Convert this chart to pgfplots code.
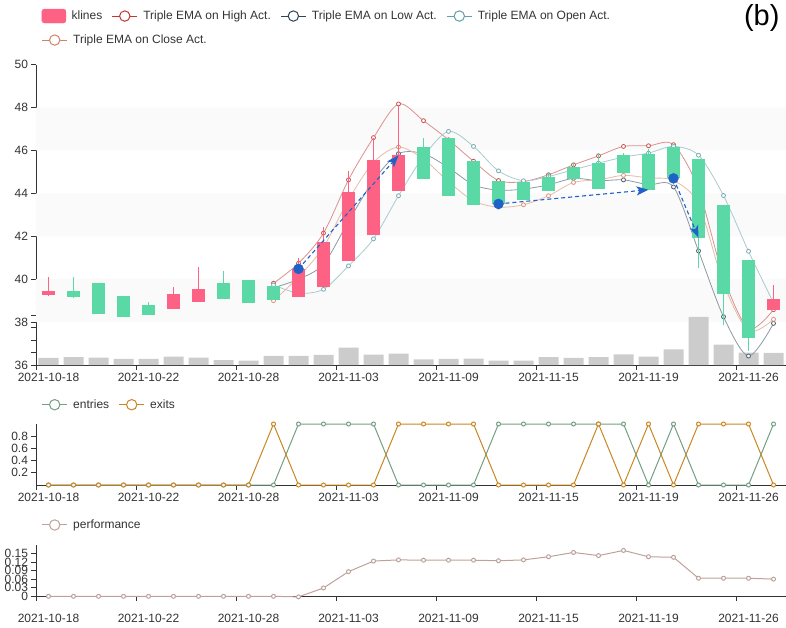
\documentclass[border=0pt]{standalone}
\usepackage{pgfplots}
\pgfplotsset{compat=1.18}
\usepackage{pgfplotstable}
\usepackage{fontspec}
\setmainfont{Liberation Sans}
\usetikzlibrary{arrows.meta}
\definecolor{kup}{RGB}{253,98,132}
\definecolor{kdown}{RGB}{90,216,166}
\definecolor{emaH}{HTML}{C23531}
\definecolor{emaL}{HTML}{2F4554}
\definecolor{emaO}{HTML}{61A0A8}
\definecolor{emaC}{HTML}{D48265}
\definecolor{ent}{HTML}{749F83}
\definecolor{ext}{HTML}{CA8622}
\definecolor{perf}{HTML}{BDA29A}
\definecolor{band}{RGB}{250,250,250}
\definecolor{vol}{RGB}{204,204,204}
\definecolor{trade}{HTML}{1F62C8}
\definecolor{txt}{HTML}{333333}

\pgfplotstableread{
x o c h l
0 39.27 39.45 40.08 39.24
5 38.60 39.33 39.63 38.60
6 38.94 39.56 40.57 38.94
10 39.16 40.48 40.98 39.16
11 39.63 41.74 42.42 39.63
12 40.87 44.07 45.05 40.87
13 42.05 45.57 46.58 42.05
14 44.12 45.77 48.10 44.12
29 38.58 39.08 39.73 38.58
}\kuptab

\pgfplotstableread{
x o c h l
1 39.45 39.16 40.12 39.14
2 39.83 38.38 39.83 38.38
3 39.22 38.24 39.22 38.24
4 38.79 38.33 38.96 38.33
7 39.83 39.08 40.40 39.08
8 39.97 38.89 39.97 38.89
9 39.66 39.05 39.66 39.05
15 46.16 44.68 46.58 44.68
16 46.56 43.90 46.56 43.90
17 45.52 43.44 45.52 43.44
18 44.59 43.51 44.59 43.51
19 44.54 43.67 44.54 43.67
20 44.77 44.09 45.01 44.09
21 45.24 44.66 45.44 44.66
22 45.41 44.21 45.88 44.21
23 45.77 44.94 45.90 44.94
24 45.83 44.17 46.08 44.17
25 46.17 44.70 46.17 44.70
26 45.61 41.94 45.61 40.54
27 43.48 39.33 43.48 37.85
28 40.88 37.26 40.88 36.65
}\kdowntab

\pgfplotstableread{
x v
0 36.327
1 36.373
2 36.341
3 36.280
4 36.280
5 36.387
6 36.341
7 36.233
8 36.200
9 36.420
10 36.420
11 36.467
12 36.807
13 36.481
14 36.527
15 36.266
16 36.280
17 36.294
18 36.200
19 36.200
20 36.373
21 36.327
22 36.373
23 36.499
24 36.387
25 36.733
26 38.240
27 36.947
28 36.574
29 36.560
}\voltab

\pgfplotstableread{
x h l o c
9 39.81 39.60 39.73 39.00
10 40.74 40.00 39.35 40.10
11 42.15 40.70 39.53 41.50
12 44.63 42.70 40.62 43.70
13 46.60 44.60 41.88 45.45
14 48.17 45.85 43.89 46.16
15 47.39 45.85 45.72 45.60
16 46.50 45.20 46.89 44.55
17 45.50 44.40 46.19 43.65
18 44.60 44.15 45.05 43.36
19 44.55 44.20 44.59 43.47
20 44.87 44.40 44.79 43.89
21 45.33 44.70 45.10 44.51
22 45.75 44.59 45.41 44.63
23 46.19 44.63 45.69 44.84
24 46.22 44.40 45.88 44.72
25 46.27 44.30 46.19 44.60
26 44.20 41.32 45.78 43.50
27 40.10 38.25 43.90 39.80
28 37.70 36.42 41.30 37.60
29 38.58 37.94 38.90 38.13
}\ematab

\pgfplotstableread{
x en ex perf
0 0 0 0
1 0 0 0
2 0 0 0
3 0 0 0
4 0 0 0
5 0 0 0
6 0 0 0
7 0 0 0
8 0 0 0
9 0 1 0
10 1 0 -0.002
11 1 0 0.029
12 1 0 0.086
13 1 0 0.123
14 0 1 0.127
15 0 1 0.126
16 0 1 0.126
17 0 1 0.126
18 1 0 0.124
19 1 0 0.127
20 1 0 0.138
21 1 0 0.153
22 1 1 0.142
23 1 0 0.160
24 0 1 0.138
25 1 0 0.136
26 0 1 0.063
27 0 1 0.063
28 0 1 0.063
29 1 0 0.060
}\sigtab

\pgfplotsset{
  common/.style={
    scale only axis, width=750pt,
    xmin=-0.5, xmax=29.5,
    axis x line*=bottom, axis y line*=left,
    axis line style={draw=txt, line width=0.8pt},
    xtick={-0.5,3.5,7.5,11.5,15.5,19.5,23.5,27.5},
    xticklabels={2021-10-18,2021-10-22,2021-10-28,2021-11-03,2021-11-09,2021-11-15,2021-11-19,2021-11-26},
    xticklabel style={xshift=12.5pt},
    tick align=outside, major tick length=4.5pt,
    tick style={draw=txt, line width=0.8pt},
    ticklabel style={font=\fontsize{12pt}{14pt}\selectfont, text=txt},
    /pgf/number format/assume math mode=true,
    legend style={draw=none, fill=none, inner sep=0pt, outer sep=0pt, anchor=west,
      font=\fontsize{12pt}{14pt}\selectfont, text=txt,
      nodes={inner sep=0pt},
      /tikz/every odd column/.append style={column sep=5.5pt},
      /tikz/every even column/.append style={column sep=9.5pt}},
    legend columns=-1,
  },
  lineleg/.style={legend image code/.code={
    \draw[#1, line width=1pt] (0pt,0pt) -- (25pt,0pt);
    \draw[#1, line width=1pt, fill=white] (12.5pt,0pt) circle (5.2pt);}},
}

\begin{document}
\begin{tikzpicture}
\useasboundingbox (0,0) rectangle (786pt,627pt);

% main candlestick axis
\begin{axis}[common,
  at={(36pt,262pt)}, anchor=south west, height=300.3pt,
  ymin=36, ymax=50, clip marker paths=true,
  ytick={36,38,...,50},
  extra y ticks={36.583,37.167,37.75,38.333},
  extra y tick labels={},
  legend style={at={(axis description cs:0.0076,1.162)}},
]
\addlegendimage{legend image code/.code={\fill[kup, rounded corners=2.5pt] (0pt,-7pt) rectangle (24pt,7pt);}}
\addlegendentry{klines}
\addlegendimage{lineleg=emaH}
\addlegendentry{Triple EMA on High Act.}
\addlegendimage{lineleg=emaL}
\addlegendentry{Triple EMA on Low Act.}
\addlegendimage{lineleg=emaO}
\addlegendentry{Triple EMA on Open Act.}

% background bands
\addplot[forget plot, draw=none, fill=band] coordinates {(-0.5,38) (29.5,38) (29.5,40) (-0.5,40) (-0.5,38)};
\addplot[forget plot, draw=none, fill=band] coordinates {(-0.5,42) (29.5,42) (29.5,44) (-0.5,44) (-0.5,42)};
\addplot[forget plot, draw=none, fill=band] coordinates {(-0.5,46) (29.5,46) (29.5,48) (-0.5,48) (-0.5,46)};

% volume
\addplot[forget plot, ybar, bar width=20pt, bar shift=0pt, fill=vol, draw=none] table[x=x, y=v] {\voltab};

% EMA lines
\addplot[forget plot, smooth, color=emaH!55, line width=0.8pt, mark=*, mark size=2pt, mark options={fill=white, draw=emaH!85, line width=0.8pt}] table[x=x, y=h] {\ematab};
\addplot[forget plot, smooth, color=emaL!55, line width=0.8pt, mark=*, mark size=2pt, mark options={fill=white, draw=emaL!85, line width=0.8pt}] table[x=x, y=l] {\ematab};
\addplot[forget plot, smooth, color=emaO!55, line width=0.8pt, mark=*, mark size=2pt, mark options={fill=white, draw=emaO!85, line width=0.8pt}] table[x=x, y=o] {\ematab};
\addplot[forget plot, smooth, color=emaC!55, line width=0.8pt, mark=*, mark size=2pt, mark options={fill=white, draw=emaC!85, line width=0.8pt}] table[x=x, y=c] {\ematab};

% wicks
\addplot[forget plot, draw=none, mark=none, error bars/.cd, y dir=both, y explicit, error mark=none,
  error bar style={draw=kup, line width=1.2pt}]
  table[x=x, y expr=(\thisrow{h}+\thisrow{l})/2, y error expr=(\thisrow{h}-\thisrow{l})/2] {\kuptab};
\addplot[forget plot, draw=none, mark=none, error bars/.cd, y dir=both, y explicit, error mark=none,
  error bar style={draw=kdown, line width=1.2pt}]
  table[x=x, y expr=(\thisrow{h}+\thisrow{l})/2, y error expr=(\thisrow{h}-\thisrow{l})/2] {\kdowntab};
% bodies
\addplot[forget plot, draw=none, mark=none, error bars/.cd, y dir=both, y explicit, error mark=none,
  error bar style={draw=kup, line width=13pt}]
  table[x=x, y expr=(\thisrow{o}+\thisrow{c})/2, y error expr=abs(\thisrow{c}-\thisrow{o})/2] {\kuptab};
\addplot[forget plot, draw=none, mark=none, error bars/.cd, y dir=both, y explicit, error mark=none,
  error bar style={draw=kdown, line width=13pt}]
  table[x=x, y expr=(\thisrow{o}+\thisrow{c})/2, y error expr=abs(\thisrow{c}-\thisrow{o})/2] {\kdowntab};

% trades
\addplot[forget plot, color=trade, line width=1.1pt, dash pattern=on 4pt off 3pt, -{Stealth[length=12pt, width=9pt, inset=3pt]}] coordinates {(10,40.48) (14,45.77)};
\addplot[forget plot, color=trade, line width=1.1pt, dash pattern=on 4pt off 3pt, -{Stealth[length=12pt, width=9pt, inset=3pt]}] coordinates {(18,43.51) (24,44.17)};
\addplot[forget plot, color=trade, line width=1.1pt, dash pattern=on 4pt off 3pt, -{Stealth[length=12pt, width=9pt, inset=3pt]}] coordinates {(25,44.70) (26,41.94)};
\addplot[forget plot, only marks, mark=*, mark size=5pt, color=trade] coordinates {(10,40.48) (18,43.51) (25,44.70)};
\end{axis}

% second legend row
\begin{axis}[common,
  at={(36pt,262pt)}, anchor=south west, height=300.3pt,
  ymin=36, ymax=50, hide axis,
  legend style={at={(axis description cs:0.0076,1.082)}},
]
\addlegendimage{lineleg=emaC}
\addlegendentry{Triple EMA on Close Act.}
\end{axis}

% entries / exits
\begin{axis}[common,
  at={(36pt,142pt)}, anchor=south west, height=61pt,
  ymin=0, ymax=1, clip=false,
  ytick={0.2,0.4,0.6,0.8},
  legend style={at={(axis description cs:0.0076,1.316)}},
]
\addlegendimage{lineleg=ent}
\addlegendentry{entries}
\addlegendimage{lineleg=ext}
\addlegendentry{exits}
\addplot[forget plot, color=ent, line width=1pt, mark=*, mark size=2pt, mark options={fill=white, draw=ent}] table[x=x, y=en] {\sigtab};
\addplot[forget plot, color=ext, line width=1pt, mark=*, mark size=2pt, mark options={fill=white, draw=ext}] table[x=x, y=ex] {\sigtab};
\end{axis}

% performance
\begin{axis}[common,
  at={(36pt,30.7pt)}, anchor=south west, height=51.6pt,
  ymin=0, ymax=0.18, clip=false,
  ytick={0,0.03,0.06,0.09,0.12,0.15},
  yticklabels={0,0.03,0.06,0.09,0.12,0.15},
  xticklabel style={yshift=-10pt},
  legend style={at={(axis description cs:0.0076,1.382)}},
]
\addlegendimage{lineleg=perf}
\addlegendentry{performance}
\addplot[forget plot, color=perf, line width=1pt, mark=*, mark size=2pt, mark options={fill=white, draw=perf}] table[x=x, y=perf] {\sigtab};
\end{axis}

\node[font=\fontsize{29pt}{32pt}\selectfont, text=black, anchor=east] at (783pt,609pt) {(b)};
\end{tikzpicture}
\end{document}
